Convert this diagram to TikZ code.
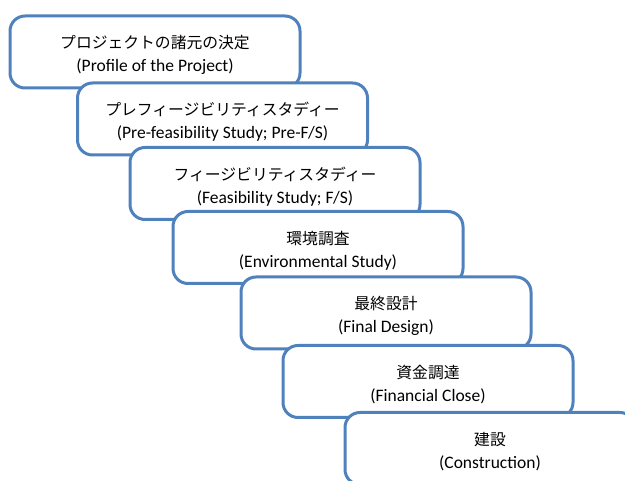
\documentclass[tikz,border=0pt]{standalone}
\usepackage{fontspec}
\setmainfont{Carlito}
\newfontfamily\jpfont{Noto Sans CJK JP}
\definecolor{boxblue}{HTML}{4F81BD}
\tikzset{
  stagebox/.style={draw=boxblue, line width=3pt, fill=white, rounded corners=15pt,
    minimum width=290pt, minimum height=72pt, align=center, inner sep=0pt,
    font=\fontsize{17.5}{22}\selectfont},
}
\newcommand{\jp}[1]{{\jpfont\fontsize{15.8}{22}\selectfont\rule{0pt}{19pt}#1}}
\begin{document}
\begin{tikzpicture}[x=1pt,y=1pt]
\useasboundingbox (0,0) rectangle (625,-481);
\clip (0,0) rectangle (625,-481);
\node[stagebox] (b1) at (155,-52) {\jp{プロジェクトの諸元の決定}\\[1pt](Profile of the Project)};
\node[stagebox] (b2) at (222.5,-119) {\jp{プレフィージビリティスタディー}\\[1pt](Pre-feasibility Study; Pre-F/S)};
\node[stagebox] (b3) at (275,-183.5) {\jp{フィージビリティスタディー}\\[1pt](Feasibility Study; F/S)};
\node[stagebox] (b4) at (318,-247.5) {\jp{環境調査}\\[1pt](Environmental Study)};
\node[stagebox] (b5) at (386,-313) {\jp{最終設計}\\[1pt](Final Design)};
\node[stagebox] (b6) at (428,-381.5) {\jp{資金調達}\\[1pt](Financial Close)};
\node[stagebox] (b7) at (490,-448.5) {\jp{建設}\\[1pt](Construction)};
\end{tikzpicture}
\end{document}
